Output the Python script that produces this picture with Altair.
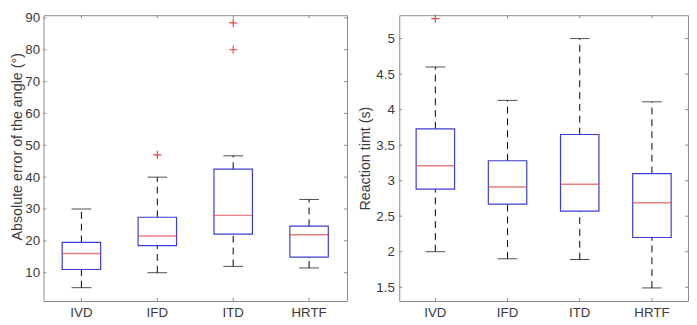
import altair as alt
import pandas as pd

cats = ["IVD", "IFD", "ITD", "HRTF"]

# Left panel: absolute error of the angle (deg)
err_low = [5.3, 10.0, 12.0, 11.5]
err_q1 = [11.0, 18.5, 22.1, 14.9]
err_med = [16.0, 21.5, 28.0, 21.9]
err_q3 = [19.5, 27.4, 42.5, 24.6]
err_high = [30.0, 40.0, 46.7, 33.0]
err_out_cat = ["IFD", "ITD", "ITD"]
err_out_val = [47.0, 80.0, 88.4]
err_ticks = [10, 20, 30, 40, 50, 60, 70, 80, 90]

# Right panel: reaction time (s)
rt_low = [2.0, 1.90, 1.89, 1.49]
rt_q1 = [2.88, 2.67, 2.57, 2.20]
rt_med = [3.21, 2.91, 2.95, 2.69]
rt_q3 = [3.73, 3.28, 3.65, 3.10]
rt_high = [4.60, 4.13, 5.00, 4.11]
rt_out_cat = ["IVD"]
rt_out_val = [5.28]
rt_ticks = [1.5, 2, 2.5, 3, 3.5, 4, 4.5, 5]

FONT = "Liberation Sans"
BLUE = "#3c3cd2"
RED = "#e04848"
AXIS = "#8a8a8a"
TEXT = "#3a3a3a"
LBL = 13.5
TTL = 14.5


def panel(low, q1, med, q3, high, out_cat, out_val, ticks, domain, title, width, height,
          fmt, label_pad, title_pad, title_y):
    df = pd.DataFrame({"cat": cats, "low": low, "q1": q1, "med": med, "q3": q3, "high": high})
    out = pd.DataFrame({"cat": out_cat, "v": out_val})
    tk = pd.DataFrame({"v": ticks})
    ck = pd.DataFrame({"cat": cats})

    xsc = alt.Scale(domain=cats, paddingInner=0, paddingOuter=0)
    xax = alt.Axis(title=None, ticks=False, domain=False, labelPadding=5,
                   labelAngle=0, labelFontSize=LBL, labelFont=FONT, labelColor=TEXT)
    xs = alt.X("cat:N", sort=cats, scale=xsc, axis=xax)
    ysc = alt.Scale(domain=domain, nice=False, zero=False)
    yax = alt.Axis(values=ticks, format=fmt, ticks=False, domain=False, grid=False,
                   labelOverlap=False,
                   labelPadding=label_pad, labelFontSize=LBL, labelFont=FONT, labelColor=TEXT,
                   title=title, titleFont=FONT, titleFontSize=TTL, titleFontWeight="normal",
                   titleColor=TEXT, titlePadding=title_pad, titleY=title_y)

    def Y(f):
        return alt.Y(f, scale=ysc, axis=yax)

    base = alt.Chart(df)
    up = base.mark_rule(color="black", strokeDash=[7, 5], strokeWidth=1).encode(
        x=xs, y=Y("q3:Q"), y2="high:Q")
    dn = base.mark_rule(color="black", strokeDash=[7, 5], strokeWidth=1).encode(
        x=xs, y=Y("low:Q"), y2="q1:Q")
    cap_hi = base.mark_tick(color="black", size=20, thickness=1).encode(
        x=xs, y=Y("high:Q"))
    cap_lo = base.mark_tick(color="black", size=20, thickness=1).encode(
        x=xs, y=Y("low:Q"))
    box = base.mark_bar(fill="white", fillOpacity=0, stroke=BLUE, strokeWidth=1.2, size=39).encode(
        x=xs, y=Y("q1:Q"), y2="q3:Q")
    medm = base.mark_tick(color=RED, size=39, thickness=1.5).encode(
        x=xs, y=Y("med:Q"))
    outl = alt.Chart(out).mark_point(shape="M-1,0L1,0M0,-1L0,1", size=70, filled=False,
                                      stroke=RED, strokeWidth=1.2, opacity=1).encode(
        x=xs, y=Y("v:Q"))

    tl = alt.Chart(tk).mark_rule(color=AXIS).encode(
        y=Y("v:Q"), x=alt.value(0), x2=alt.value(3))
    tr = alt.Chart(tk).mark_rule(color=AXIS).encode(
        y=Y("v:Q"), x=alt.value(width - 3), x2=alt.value(width))
    tb = alt.Chart(ck).mark_rule(color=AXIS).encode(
        x=xs, y=alt.value(height - 3), y2=alt.value(height))
    tt = alt.Chart(ck).mark_rule(color=AXIS).encode(
        x=xs, y=alt.value(0), y2=alt.value(3))

    return alt.layer(up, dn, cap_hi, cap_lo, box, medm, outl, tl, tr, tb, tt).properties(
        width=width, height=height)


left = panel(err_low, err_q1, err_med, err_q3, err_high, err_out_cat, err_out_val,
             err_ticks, [1.12, 90.835], "Absolute error of the angle (°)", 308, 290,
             "d", 4, 0.5, 133)
right = panel(rt_low, rt_q1, rt_med, rt_q3, rt_high, rt_out_cat, rt_out_val,
              rt_ticks, [1.306, 5.329], "Reaction timt (s)", 293, 290,
              "~g", 5, 3, 145)

chart = alt.hconcat(left, right, spacing=53, bounds="flush").properties(
    padding=0, background="white"
).configure_view(stroke=AXIS, strokeWidth=1).configure_axis(labelOverlap=False)

chart.save("out.html", embed_options={"renderer": "svg", "actions": False})
